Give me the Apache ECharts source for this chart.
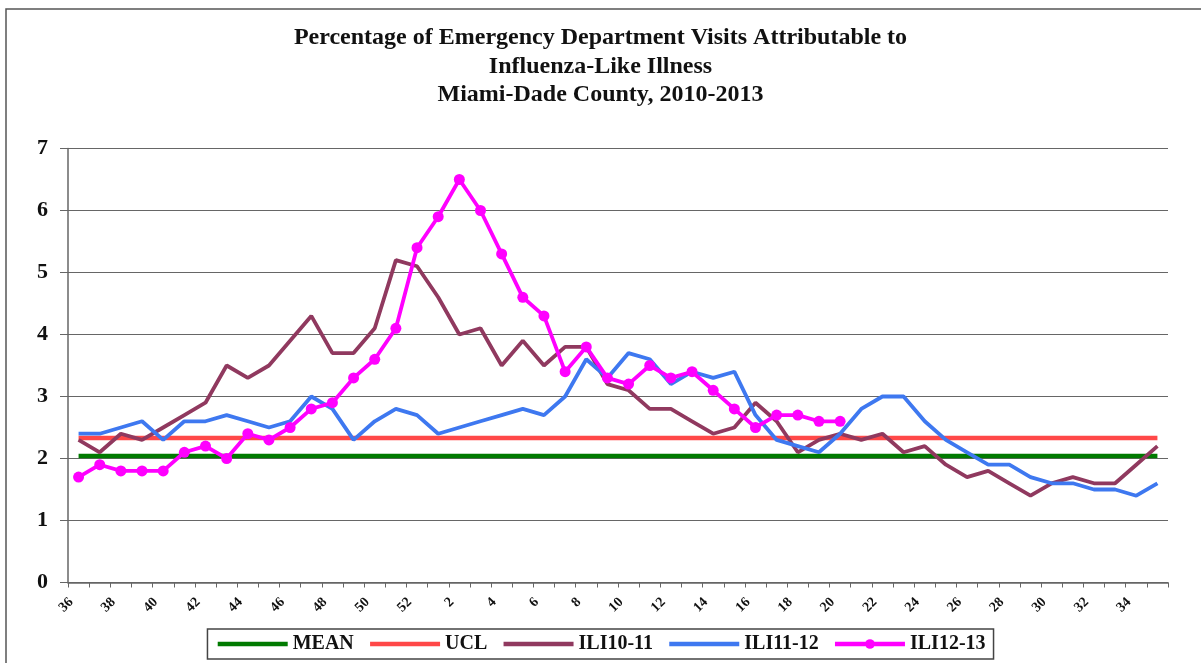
<!DOCTYPE html>
<html>
<head>
<meta charset="utf-8">
<script src="https://cdn.jsdelivr.net/npm/echarts@6/dist/echarts.min.js"></script>
<style>
html,body{margin:0;padding:0;background:#fff;}
#chart{width:1201px;height:663px;}
</style>
</head>
<body>
<div id="chart"></div>
<script>
// Week numbers (season runs week 36 to week 35 of next year)
const weeks = ['36','37','38','39','40','41','42','43','44','45','46','47','48','49','50','51','52',
  '1','2','3','4','5','6','7','8','9','10','11','12','13','14','15','16','17','18','19','20',
  '21','22','23','24','25','26','27','28','29','30','31','32','33','34','35'];

const meanValue = 2.04;
const uclValue = 2.33;

const ili1011 = [2.3,2.1,2.4,2.3,2.5,2.7,2.9,3.5,3.3,3.5,3.9,4.3,3.7,3.7,4.1,5.2,5.1,4.6,4.0,4.1,
  3.5,3.9,3.5,3.8,3.8,3.2,3.1,2.8,2.8,2.6,2.4,2.5,2.9,2.6,2.1,2.3,2.4,2.3,2.4,2.1,
  2.2,1.9,1.7,1.8,1.6,1.4,1.6,1.7,1.6,1.6,1.9,2.2];

const ili1112 = [2.4,2.4,2.5,2.6,2.3,2.6,2.6,2.7,2.6,2.5,2.6,3.0,2.8,2.3,2.6,2.8,2.7,2.4,2.5,2.6,
  2.7,2.8,2.7,3.0,3.6,3.3,3.7,3.6,3.2,3.4,3.3,3.4,2.7,2.3,2.2,2.1,2.4,2.8,3.0,3.0,
  2.6,2.3,2.1,1.9,1.9,1.7,1.6,1.6,1.5,1.5,1.4,1.6];

const ili1213 = [1.7,1.9,1.8,1.8,1.8,2.1,2.2,2.0,2.4,2.3,2.5,2.8,2.9,3.3,3.6,4.1,5.4,5.9,6.5,6.0,
  5.3,4.6,4.3,3.4,3.8,3.3,3.2,3.5,3.3,3.4,3.1,2.8,2.5,2.7,2.7,2.6,2.6];

const yTicks = [0,1,2,3,4,5,6,7];
const titleLines = ['Percentage of Emergency Department Visits Attributable to',
  'Influenza-Like Illness', 'Miami-Dade County, 2010-2013'];

const serif = '"Liberation Serif", "DejaVu Serif", serif';
const hidden = { color: 'rgba(0,0,0,0)', borderWidth: 0, opacity: 0 };

const chart = echarts.init(document.getElementById('chart'));
chart.setOption({
  animation: false,
  backgroundColor: '#fff',
  title: {
    text: titleLines.join('\n'),
    left: 'center',
    top: 24,
    padding: [0, 0, 0, 21],
    textStyle: {
      fontFamily: serif, fontWeight: 'bold', fontSize: 24, lineHeight: 28.5, color: '#111'
    }
  },
  graphic: [{
    type: 'rect',
    shape: { x: 6, y: 9, width: 1260, height: 700 },
    style: { fill: 'none', stroke: '#555', lineWidth: 1.5 },
    silent: true
  }],
  legend: {
    bottom: 4,
    left: 'center',
    itemWidth: 70,
    itemHeight: 12,
    itemGap: 14,
    padding: [5, 8, 5, 8],
    borderColor: '#444',
    borderWidth: 1.5,
    textStyle: { fontFamily: serif, fontWeight: 'bold', fontSize: 20, color: '#111' },
    data: [
      { name: 'MEAN', itemStyle: hidden, lineStyle: { width: 4.5 } },
      { name: 'UCL', itemStyle: hidden, lineStyle: { width: 4.5 } },
      { name: 'ILI10-11', itemStyle: hidden, lineStyle: { width: 4.5 } },
      { name: 'ILI11-12', itemStyle: hidden, lineStyle: { width: 4.5 } },
      { name: 'ILI12-13', lineStyle: { width: 4.5 } }
    ]
  },
  grid: { left: 68, right: 33, top: 148.5, bottom: 80.5, containLabel: false },
  xAxis: {
    type: 'category',
    data: weeks,
    boundaryGap: true,
    axisLine: { lineStyle: { color: '#666', width: 1.5 } },
    axisTick: { show: true, interval: 0, length: 5, lineStyle: { color: '#666' } },
    axisLabel: {
      interval: 1, rotate: 45, margin: 10,
      formatter: (v) => v + '\u00a0\u00a0\u00a0',
      fontFamily: serif, fontWeight: 'bold', fontSize: 14, color: '#111'
    },
    splitLine: { show: false }
  },
  yAxis: {
    type: 'value',
    min: yTicks[0], max: yTicks[yTicks.length - 1], interval: 1,
    axisLine: { show: true, lineStyle: { color: '#666', width: 1.5 } },
    axisTick: { show: true, length: 8, lineStyle: { color: '#666' } },
    axisLabel: { margin: 20, fontFamily: serif, fontWeight: 'bold', fontSize: 22, color: '#111' },
    splitLine: { show: true, lineStyle: { color: '#666', width: 1.2 } }
  },
  series: [
    { name: 'MEAN', type: 'line', data: weeks.map(() => meanValue), showSymbol: false, symbol: 'none',
      lineStyle: { color: '#007a00', width: 4.5 }, itemStyle: { color: '#007a00' }, z: 2 },
    { name: 'UCL', type: 'line', data: weeks.map(() => uclValue), showSymbol: false, symbol: 'none',
      lineStyle: { color: '#ff4848', width: 4.5 }, itemStyle: { color: '#ff4848' }, z: 2 },
    { name: 'ILI10-11', type: 'line', data: ili1011, showSymbol: false, symbol: 'none',
      lineStyle: { color: '#90395f', width: 3.8 }, itemStyle: { color: '#90395f' }, z: 3 },
    { name: 'ILI11-12', type: 'line', data: ili1112, showSymbol: false, symbol: 'none',
      lineStyle: { color: '#3e78f0', width: 3.8 }, itemStyle: { color: '#3e78f0' }, z: 4 },
    { name: 'ILI12-13', type: 'line', data: ili1213, symbol: 'circle', symbolSize: 11, showSymbol: true,
      lineStyle: { color: '#ff00ff', width: 3.8 }, itemStyle: { color: '#ff00ff' }, z: 5 }
  ]
});
</script>
</body>
</html>
